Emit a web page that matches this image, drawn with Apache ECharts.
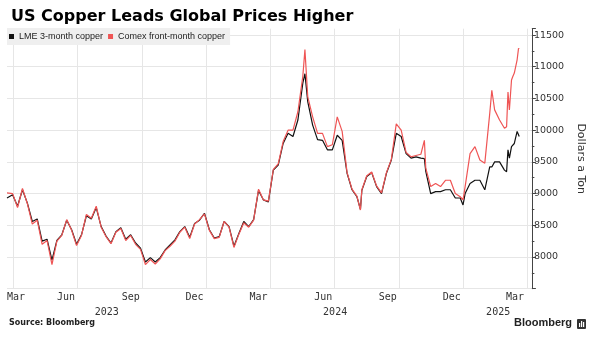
<!DOCTYPE html>
<html>
<head>
<meta charset="utf-8">
<script src="https://cdn.jsdelivr.net/npm/echarts@6/dist/echarts.min.js"></script>
<style>
  html, body { margin: 0; padding: 0; background: #fff; }
  #chart { width: 594px; height: 343px; }
</style>
</head>
<body>
<div id="chart"></div>
<script>
// Calendar span of the horizontal axis (one category per day)
const axisStart = '2023-03-23';
const axisEnd = '2025-04-08';

// Price observations, dollars a metric ton
const sampleDates = [
  '2023-03-23','2023-03-31','2023-04-07','2023-04-14','2023-04-21','2023-04-28','2023-05-05','2023-05-12',
  '2023-05-19','2023-05-26','2023-06-02','2023-06-09','2023-06-16','2023-06-23','2023-06-30','2023-07-07',
  '2023-07-14','2023-07-21','2023-07-28','2023-08-04','2023-08-11','2023-08-18','2023-08-25','2023-09-01',
  '2023-09-08','2023-09-15','2023-09-22','2023-09-29','2023-10-06','2023-10-13','2023-10-20','2023-10-27',
  '2023-11-03','2023-11-10','2023-11-17','2023-11-24','2023-12-01','2023-12-08','2023-12-15','2023-12-22',
  '2023-12-29','2024-01-05','2024-01-12','2024-01-19','2024-01-26','2024-02-02','2024-02-09','2024-02-16',
  '2024-02-23','2024-03-01','2024-03-08','2024-03-15','2024-03-22','2024-03-29','2024-04-05','2024-04-12',
  '2024-04-19','2024-04-26','2024-05-03','2024-05-10','2024-05-17','2024-05-20','2024-05-24','2024-05-31',
  '2024-06-07','2024-06-14','2024-06-21','2024-06-28','2024-07-05','2024-07-12','2024-07-19','2024-07-26',
  '2024-08-02','2024-08-07','2024-08-09','2024-08-16','2024-08-23','2024-08-30','2024-09-06','2024-09-13',
  '2024-09-20','2024-09-27','2024-10-04','2024-10-11','2024-10-18','2024-10-25','2024-11-01','2024-11-06',
  '2024-11-08','2024-11-15','2024-11-22','2024-11-29','2024-12-06','2024-12-13','2024-12-20','2024-12-27',
  '2024-12-31','2025-01-03','2025-01-10','2025-01-17','2025-01-24','2025-01-31','2025-02-07','2025-02-10',
  '2025-02-14','2025-02-21','2025-02-28','2025-03-03','2025-03-05','2025-03-07','2025-03-10','2025-03-12',
  '2025-03-14','2025-03-18','2025-03-20','2025-03-21'
];

const lmeCopper = [
  8930, 8980, 8800, 9060, 8850, 8560, 8600, 8250,
  8280, 7950, 8260, 8350, 8580, 8430, 8200, 8350,
  8650, 8600, 8780, 8480, 8330, 8220, 8400, 8460,
  8280, 8350, 8220, 8140, 7920, 7990, 7920, 7990,
  8110, 8190, 8270, 8400, 8480, 8310, 8530, 8580,
  8690, 8430, 8300, 8320, 8560, 8480, 8170, 8370,
  8560, 8480, 8590, 9050, 8900, 8870, 9370, 9450,
  9790, 9950, 9900, 10160, 10740, 10890, 10450, 10080,
  9850, 9840, 9690, 9690, 9920, 9840, 9320, 9060,
  8950, 8750, 9050, 9270, 9330, 9110, 9000, 9320,
  9530, 9950, 9900, 9630, 9560, 9580, 9560, 9550,
  9350, 9000, 9030, 9030, 9060, 9060, 8930, 8930,
  8820, 9000, 9160, 9210, 9210, 9060, 9420, 9420,
  9500, 9500, 9370, 9345, 9690, 9560, 9740, 9770,
  9790, 9980, 10000, 9900
];

const comexCopper = [
  9010, 9000, 8780, 9080, 8840, 8520, 8580, 8200,
  8260, 7880, 8250, 8340, 8590, 8420, 8180, 8340,
  8670, 8610, 8800, 8470, 8320, 8210, 8390, 8450,
  8260, 8340, 8200, 8120, 7880, 7960, 7890, 7970,
  8100, 8170, 8250, 8390, 8470, 8290, 8520, 8590,
  8680, 8420, 8290, 8310, 8560, 8470, 8150, 8360,
  8540, 8470, 8580, 9070, 8900, 8880, 9380, 9470,
  9820, 10000, 10000, 10290, 10850, 11270, 10530, 10210,
  9950, 9950, 9740, 9770, 10210, 9980, 9330, 9070,
  8960, 8740, 9060, 9280, 9340, 9120, 9010, 9330,
  9540, 10100, 10000, 9650, 9580, 9600, 9620, 9840,
  9400, 9110, 9160, 9110, 9210, 9210, 9000, 8950,
  8900, 9110, 9630, 9740, 9530, 9480, 10260, 10630,
  10320, 10160, 10030, 10055, 10600, 10320, 10790, 10850,
  10900, 11110, 11290, 11280
];

// Month labels sit mid-month; split lines mark the quarter starts
const monthLabelDays = ['2023-03-23','2023-06-15','2023-09-15','2023-12-15','2024-03-15','2024-06-15','2024-09-15','2024-12-15','2025-03-15'];
const monthLabels = ['Mar','Jun','Sep','Dec','Mar','Jun','Sep','Dec','Mar'];
const quarterStarts = ['2023-04-01','2023-07-01','2023-10-01','2024-01-01','2024-04-01','2024-07-01','2024-10-01','2025-01-01','2025-04-01'];
const yearLabels = ['2023','2024','2025'];

// Build the daily category list
function dayList(from, to) {
  const out = [];
  const t1 = Date.parse(to + 'T00:00:00Z');
  for (let t = Date.parse(from + 'T00:00:00Z'); t <= t1; t += 86400000) {
    out.push(new Date(t).toISOString().slice(0, 10));
  }
  return out;
}
const days = dayList(axisStart, axisEnd);
const dayIndex = {};
days.forEach((d, i) => { dayIndex[d] = i; });

const monthLabelAt = {};
monthLabelDays.forEach((d, i) => { monthLabelAt[dayIndex[d]] = monthLabels[i]; });
const quarterSet = new Set(quarterStarts.map(d => dayIndex[d]));

// Year captions centred under the visible part of each year
const yearLabelAt = {};
yearLabels.forEach(y => {
  let first = -1, last = -1;
  days.forEach((d, i) => { if (d.slice(0, 4) === y) { if (first < 0) first = i; last = i; } });
  yearLabelAt[Math.round((first + last) / 2)] = y;
});

const lmeData = sampleDates.map((d, i) => [d, lmeCopper[i]]);
const comexData = sampleDates.map((d, i) => [d, comexCopper[i]]);

const chart = echarts.init(document.getElementById('chart'), null, { renderer: 'canvas' });

chart.setOption({
  animation: false,
  backgroundColor: '#ffffff',
  title: {
    text: 'US Copper Leads Global Prices Higher',
    left: 6, top: 4,
    textStyle: { fontFamily: 'DejaVu Sans', fontWeight: 'bold', fontSize: 16, color: '#000' }
  },
  legend: {
    left: 7, top: 28,
    icon: 'rect',
    itemWidth: 5, itemHeight: 5, itemGap: 5,
    padding: [4, 5, 4, 2],
    backgroundColor: '#efefef',
    textStyle: { fontFamily: 'Liberation Sans', fontSize: 9, color: '#222' },
    data: ['LME 3-month copper', 'Comex front-month copper']
  },
  grid: { left: 7, right: 57.5, top: 28.7, bottom: 54.3, containLabel: false },
  xAxis: [
    {
      type: 'category', data: days, boundaryGap: false,
      axisLine: { show: false }, axisTick: { show: false },
      splitLine: { show: true, interval: (i) => quarterSet.has(i), lineStyle: { color: '#e6e6e6', width: 1 } },
      axisLabel: {
        interval: (i) => monthLabelAt[i] !== undefined,
        formatter: (v, i) => monthLabelAt[i] || '',
        alignMinLabel: 'left',
        margin: 4,
        fontFamily: 'DejaVu Sans Mono', fontSize: 10, color: '#333'
      }
    },
    {
      type: 'category', data: days, boundaryGap: false, position: 'bottom', offset: 14,
      axisLine: { show: false }, axisTick: { show: false }, splitLine: { show: false },
      axisLabel: {
        interval: (i) => yearLabelAt[i] !== undefined,
        formatter: (v, i) => yearLabelAt[i] || '',
        margin: 5,
        fontFamily: 'DejaVu Sans Mono', fontSize: 10, color: '#333'
      }
    }
  ],
  yAxis: {
    type: 'value', position: 'right',
    min: 7500, max: 11600, interval: 500,
    axisLine: { show: true, lineStyle: { color: '#444', width: 1 } },
    axisTick: { show: true, length: 4, lineStyle: { color: '#444' } },
    minorTick: { show: true, splitNumber: 2, length: 2.5, lineStyle: { color: '#444' } },
    splitLine: { show: true, showMaxLine: false, lineStyle: { color: '#e6e6e6', width: 1 } },
    axisLabel: {
      margin: 2, color: '#333', fontFamily: 'DejaVu Sans', fontSize: 9.5,
      formatter: (v) => (v >= 8000 && v <= 11500 && v % 500 === 0) ? String(v) : ''
    },
    name: 'Dollars a Ton', nameLocation: 'middle', nameRotate: -90, nameGap: 36,
    nameTextStyle: { fontFamily: 'DejaVu Sans', fontSize: 11, color: '#333' }
  },
  series: [
    {
      name: 'LME 3-month copper', type: 'line', data: lmeData,
      xAxisIndex: 0, showSymbol: false, symbol: 'none',
      lineStyle: { color: '#111', width: 1.2 }, itemStyle: { color: '#111' }
    },
    {
      name: 'Comex front-month copper', type: 'line', data: comexData,
      xAxisIndex: 0, showSymbol: false, symbol: 'none',
      lineStyle: { color: '#ef5555', width: 1.2 }, itemStyle: { color: '#ef5555' }
    }
  ],
  graphic: [
    {
      type: 'text', left: 9, top: 319,
      style: { text: 'Source: Bloomberg', fontFamily: 'DejaVu Sans', fontWeight: 'bold', fontSize: 8, fill: '#222' }
    },
    {
      type: 'text', left: 514, top: 317,
      style: { text: 'Bloomberg', fontFamily: 'Liberation Sans', fontWeight: 'bold', fontSize: 11, fill: '#222' }
    },
    {
      type: 'group', left: 577, top: 319,
      children: [
        { type: 'rect', shape: { x: 0, y: 0, width: 9, height: 10, r: 1 }, style: { fill: '#333' } },
        { type: 'rect', shape: { x: 2, y: 4, width: 1.2, height: 4 }, style: { fill: '#fff' } },
        { type: 'rect', shape: { x: 4, y: 2, width: 1.2, height: 6 }, style: { fill: '#fff' } },
        { type: 'rect', shape: { x: 6, y: 3, width: 1.2, height: 5 }, style: { fill: '#fff' } }
      ]
    }
  ]
});
</script>
</body>
</html>
